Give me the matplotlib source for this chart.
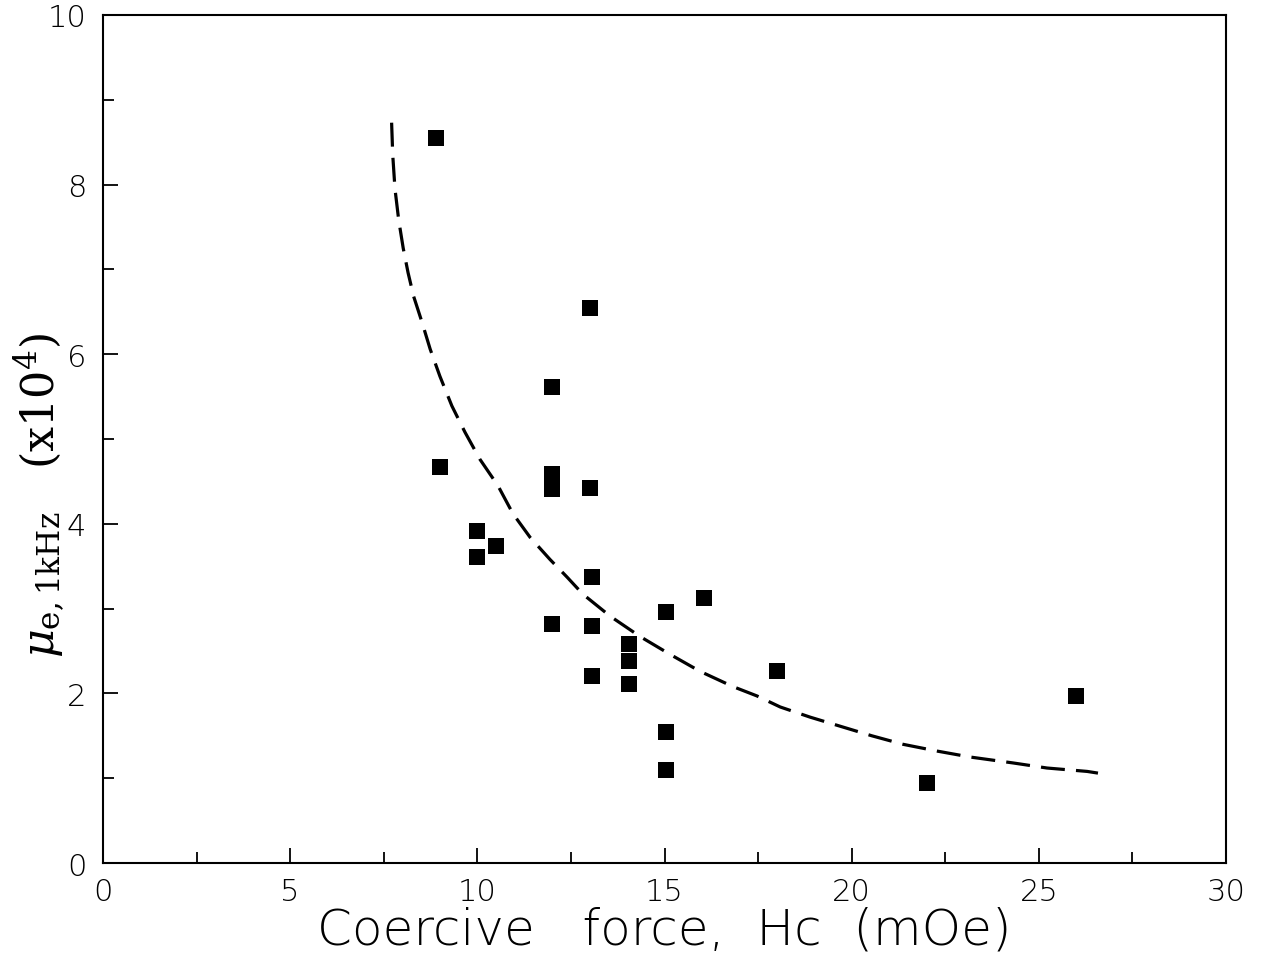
import numpy as np
import matplotlib
matplotlib.use('Agg')
from matplotlib import pyplot as plt

plt.rcParams['mathtext.fontset'] = 'dejavuserif'

# measured samples: coercive force (mOe) vs effective permeability at 1 kHz (x10^4)
hc = [8.9, 9.0, 10.0, 10.0, 10.5, 12.0, 12.0, 12.0, 12.0,
      13.0, 13.0, 13.05, 13.05, 13.05, 14.05, 14.05, 14.05,
      15.05, 15.05, 15.05, 16.05, 18.0, 22.0, 26.0]
mu = [8.55, 4.67, 3.92, 3.61, 3.74, 5.61, 4.59, 4.41, 2.82,
      6.54, 4.42, 3.37, 2.79, 2.21, 2.58, 2.38, 2.11,
      2.96, 1.54, 1.10, 3.12, 2.26, 0.94, 1.97]

# dashed trend curve
curve_hc = [7.71, 7.74, 7.80, 7.90, 8.02, 8.15, 8.30, 8.52, 8.74, 9.00, 9.32,
            9.67, 10.07, 10.55, 10.95, 11.41, 11.94, 12.40, 12.82, 13.55,
            14.35, 15.15, 15.95, 16.83, 17.47, 18.09, 18.89, 19.64, 20.54,
            21.37, 22.28, 23.16, 24.31, 25.22, 26.29, 26.58]
curve_mu = [8.73, 8.35, 7.95, 7.58, 7.25, 6.96, 6.68, 6.38, 6.06, 5.74, 5.39,
            5.08, 4.76, 4.45, 4.12, 3.84, 3.58, 3.37, 3.17, 2.91,
            2.67, 2.46, 2.26, 2.08, 1.97, 1.84, 1.72, 1.62, 1.50,
            1.40, 1.32, 1.25, 1.18, 1.12, 1.08, 1.06]

x_ticks = [0, 5, 10, 15, 20, 25, 30]
y_ticks = [0, 2, 4, 6, 8, 10]

fig = plt.figure(figsize=(12.63, 9.62), dpi=100)
ax = fig.add_axes([103 / 1263, 1 - 864 / 962, (1226 - 103) / 1263, (864 - 16) / 962])

ax.plot(curve_hc, curve_mu, color='black', lw=2.3, dashes=(7.5, 3.5))
ax.plot(hc, mu, 's', color='black', markersize=11.5, markeredgewidth=0)

ax.set_xlim(0, 30)
ax.set_ylim(0, 10)
ax.set_xticks(x_ticks)
ax.set_yticks(y_ticks)
ax.set_xticks(np.arange(2.5, 30, 5), minor=True)
ax.set_yticks(np.arange(1, 10, 2), minor=True)
ax.tick_params(which='both', direction='in', top=False, right=False, width=1.3)
ax.tick_params(which='major', length=11)
ax.tick_params(which='minor', length=8)
ax.tick_params(axis='x', which='major', pad=10)
ax.tick_params(axis='y', which='major', pad=12)
for lab in ax.get_xticklabels() + ax.get_yticklabels():
    lab.set_fontsize(22)
    lab.set_fontfamily('DejaVu Sans')
    lab.set_fontweight('ultralight')
for sp in ax.spines.values():
    sp.set_linewidth(1.5)

ax.set_xlabel('Coercive   force,  Hc  (mOe)', fontsize=36, fontweight='ultralight',
              family='DejaVu Sans', labelpad=0)
# y label placed by hand, the tick labels leave little room
fig.text(40 / 1263, 1 - 495 / 962, r'$\mu_{\mathrm{e,1kHz}}$   (x10$^4$)',
         rotation=90, fontsize=32, family='DejaVu Serif',
         ha='center', va='center')

fig.savefig('out.png', dpi=100, facecolor='white')
